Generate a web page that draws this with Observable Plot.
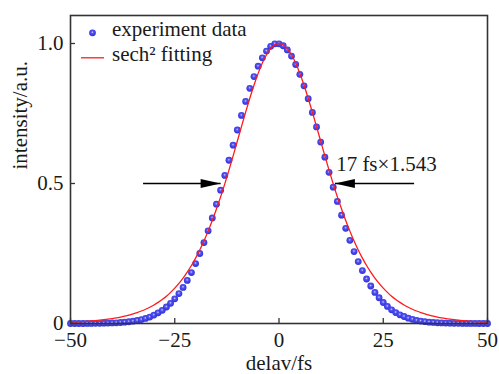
<!DOCTYPE html>
<html><head><meta charset="utf-8">
<script src="https://cdn.jsdelivr.net/npm/d3@7"></script>
<script src="https://cdn.jsdelivr.net/npm/@observablehq/plot@0.6"></script>
<style>body{margin:0;background:#fff} svg{display:block}</style>
</head><body><div id="chart"></div>
<script>
const delays = [-50,-49,-48,-47,-46,-45,-44,-43,-42,-41,-40,-39,-38,-37,-36,-35,-34,-33,-32,-31,-30,-29,-28,-27,-26,-25,-24,-23,-22,-21,-20,-19,-18,-17,-16,-15,-14,-13,-12,-11,-10,-9,-8,-7,-6,-5,-4,-3,-2,-1,0,1,2,3,4,5,6,7,8,9,10,11,12,13,14,15,16,17,18,19,20,21,22,23,24,25,26,27,28,29,30,31,32,33,34,35,36,37,38,39,40,41,42,43,44,45,46,47,48,49,50];
const experimentData = [0.000,0.000,0.000,0.000,0.0002,0.0003,0.0005,0.0007,0.0010,0.0014,0.0019,0.0025,0.0035,0.0047,0.0062,0.0082,0.011,0.014,0.018,0.023,0.030,0.038,0.047,0.059,0.072,0.088,0.107,0.129,0.154,0.182,0.214,0.250,0.289,0.331,0.377,0.426,0.476,0.529,0.583,0.637,0.691,0.743,0.793,0.840,0.882,0.919,0.949,0.973,0.990,0.999,0.999,0.992,0.977,0.955,0.925,0.890,0.849,0.803,0.754,0.702,0.648,0.594,0.540,0.487,0.436,0.387,0.340,0.297,0.257,0.221,0.189,0.159,0.134,0.111,0.092,0.075,0.061,0.049,0.039,0.031,0.025,0.019,0.015,0.011,0.0087,0.0066,0.0049,0.0037,0.0027,0.0020,0.0014,0.0010,0.0007,0.0005,0.0004,0.0003,0.0002,0.0001,0.000,0.000,0.000];
const sech2Fit = [0.0045,0.0052,0.0059,0.0068,0.0078,0.0089,0.0102,0.0117,0.0134,0.0153,0.0175,0.0200,0.0229,0.0262,0.0299,0.0342,0.0390,0.0446,0.0509,0.0580,0.0662,0.0754,0.0859,0.0977,0.1111,0.1262,0.1432,0.1622,0.1835,0.2072,0.2336,0.2628,0.2948,0.3299,0.3681,0.4092,0.4521,0.4988,0.5478,0.5987,0.6508,0.7031,0.7547,0.8045,0.8511,0.8933,0.9300,0.9598,0.9818,0.9954,1.0000,0.9954,0.9818,0.9598,0.9300,0.8933,0.8511,0.8045,0.7547,0.7031,0.6508,0.5987,0.5478,0.4988,0.4521,0.4092,0.3681,0.3299,0.2948,0.2628,0.2336,0.2072,0.1835,0.1622,0.1432,0.1262,0.1111,0.0977,0.0859,0.0754,0.0662,0.0580,0.0509,0.0446,0.0390,0.0342,0.0299,0.0262,0.0229,0.0200,0.0175,0.0153,0.0134,0.0117,0.0102,0.0089,0.0078,0.0068,0.0059,0.0052,0.0045];
const xTicks = [-50, -25, 0, 25, 50];
const xTickLabels = ["−50", "−25", "0", "25", "50"];
const yTicks = [0, 0.5, 1];
const yTickLabels = ["0", "0.5", "1.0"];
const arrowTails = [-32.6, 32.4];
const arrowTips = [-14.0, 13.4];
const arrowLevel = 0.5;
const annotationText = "17 fs×1.543";
const annotationX = 13.7;
const legendLabels = ["experiment data", "sech² fitting"];
const xLabel = "delav/fs";
const yLabel = "intensity/a.u.";

const points = delays.map((d, i) => ({x: d, y: experimentData[i]}));
const fit = delays.map((d, i) => ({x: d, y: sech2Fit[i]}));
const arrows = arrowTails.map((t, i) => ({x1: t, x2: arrowTips[i], y: arrowLevel}));

const headRight = {draw(c) { c.moveTo(0, 0); c.lineTo(-20, -4.5); c.lineTo(-20, 4.5); c.closePath(); }};
const headLeft = {draw(c) { c.moveTo(0, 0); c.lineTo(20, -4.5); c.lineTo(20, 4.5); c.closePath(); }};
const legendLine = {draw(c) { c.moveTo(-11.5, 0); c.lineTo(11.5, 0); }};

const ink = "#1a1a1a";
const chart = Plot.plot({
  width: 499, height: 374,
  marginLeft: 70, marginRight: 12, marginTop: 15, marginBottom: 51,
  style: {fontFamily: "'Liberation Serif', 'Times New Roman', serif", fontSize: "21px", color: ink, background: "#fff"},
  x: {domain: [-50, 50]},
  y: {domain: [0, 1.1]},
  marks: [
    Plot.dot(points, {x: "x", y: "y", r: 3.4, fill: "url(#ball)", stroke: "none"}),
    Plot.line(fit, {x: "x", y: "y", stroke: "#ff1a1a", strokeWidth: 1.3, curve: "monotone-x"}),
    Plot.link(arrows, {x1: "x1", x2: "x2", y1: "y", y2: "y", stroke: "#000", strokeWidth: 1.3}),
    Plot.dot([arrows[0]], {x: "x2", y: "y", symbol: headRight, r: 5, fill: "#000", stroke: "none"}),
    Plot.dot([arrows[1]], {x: "x2", y: "y", symbol: headLeft, r: 5, fill: "#000", stroke: "none"}),
    Plot.text([annotationText], {x: annotationX, y: arrowLevel, dy: -19, textAnchor: "start", lineAnchor: "middle", fill: ink}),
    // legend
    Plot.dot([0], {frameAnchor: "top-left", dx: 22, dy: 17.3, r: 3.4, fill: "url(#ball)", stroke: "none"}),
    Plot.dot([0], {frameAnchor: "top-left", dx: 22, dy: 42.3, symbol: legendLine, stroke: "#ff1a1a", strokeWidth: 1.3, fill: "none"}),
    Plot.text([legendLabels[0]], {frameAnchor: "top-left", dx: 41.5, dy: 13.3, textAnchor: "start", lineAnchor: "middle", fill: ink}),
    Plot.text([legendLabels[1]], {frameAnchor: "top-left", dx: 41.5, dy: 39, textAnchor: "start", lineAnchor: "middle", fill: ink}),
    // axes
    Plot.axisX({ticks: xTicks, tickSize: -5, tickPadding: 14, tickFormat: d => xTickLabels[xTicks.indexOf(d)], label: null, stroke: "#333", strokeWidth: 1.3, fill: ink}),
    Plot.axisY({ticks: yTicks, tickSize: -5, tickPadding: 12, tickFormat: d => yTickLabels[yTicks.indexOf(d)], label: null, stroke: "#333", strokeWidth: 1.3, fill: ink}),
    Plot.text([xLabel], {frameAnchor: "bottom", dy: 39.5, lineAnchor: "middle", fill: ink}),
    Plot.text([yLabel], {frameAnchor: "left", dx: -50, rotate: -90, lineAnchor: "middle", fill: ink}),
    Plot.frame({stroke: "#333", strokeWidth: 1.6})
  ]
});
const ns = "http://www.w3.org/2000/svg";
const defs = document.createElementNS(ns, "defs");
defs.innerHTML = '<radialGradient id="ball" cx="0.48" cy="0.42" r="0.6"><stop offset="0" stop-color="#d4d4ff"/><stop offset="0.3" stop-color="#5555f4"/><stop offset="1" stop-color="#2a2ad8"/></radialGradient>';
chart.insertBefore(defs, chart.firstChild);
document.getElementById("chart").appendChild(chart);
</script>
</body></html>
